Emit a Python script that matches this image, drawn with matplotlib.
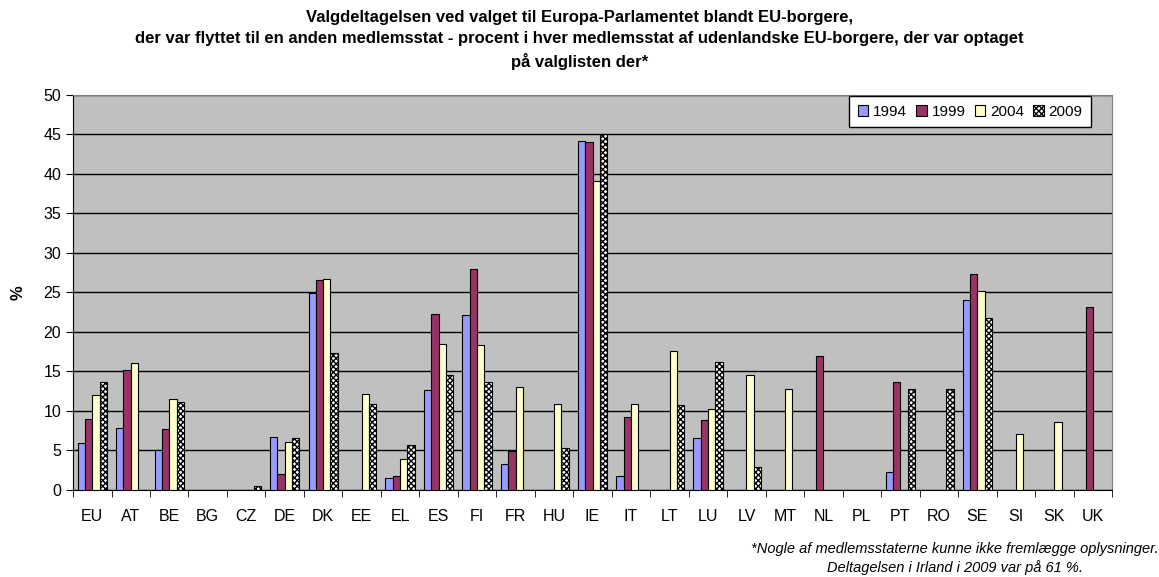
import matplotlib.pyplot as plt
import numpy as np

plt.rcParams['font.family'] = ['Liberation Sans', 'DejaVu Sans']

# data
lande = ["EU", "AT", "BE", "BG", "CZ", "DE", "DK", "EE", "EL", "ES", "FI", "FR", "HU",
         "IE", "IT", "LT", "LU", "LV", "MT", "NL", "PL", "PT", "RO", "SE", "SI", "SK", "UK"]
aar = ["1994", "1999", "2004", "2009"]
nan = np.nan
v1994 = [5.9, 7.8, 5.0, nan, nan, 6.7, 24.9, nan, 1.5, 12.6, 22.1, 3.3, nan,
         44.2, 1.7, nan, 6.6, nan, nan, nan, nan, 2.2, nan, 24.1, nan, nan, nan]
v1999 = [9.0, 15.2, 7.7, nan, nan, 2.0, 26.6, nan, 1.7, 22.3, 28.0, 4.9, nan,
         44.1, 9.2, nan, 8.8, nan, nan, 16.9, nan, 13.6, nan, 27.3, nan, nan, 23.1]
v2004 = [12.0, 16.0, 11.5, nan, nan, 6.0, 26.7, 12.2, 3.9, 18.5, 18.3, 13.0, 10.9,
         39.1, 10.9, 17.6, 10.3, 14.5, 12.8, nan, nan, nan, nan, 25.2, 7.1, 8.6, nan]
v2009 = [13.6, nan, 11.1, nan, 0.5, 6.6, 17.3, 10.9, 5.7, 14.5, 13.6, nan, 5.3,
         45.0, nan, 10.8, 16.2, 2.9, nan, nan, nan, 12.8, 12.8, 21.8, nan, nan, nan]
serier = [v1994, v1999, v2004, v2009]

farver = ["#9999FF", "#993366", "#FFFFCC", "white"]
moenstre = [None, None, None, "xxxxxx"]

fig = plt.figure(figsize=(11.59, 5.77), dpi=100)
ax = fig.add_axes([0.063, 0.151, 0.8965, 0.6845])
ax.set_facecolor("#C0C0C0")

x = np.arange(len(lande))
bredde = 0.19
for i, (vals, navn) in enumerate(zip(serier, aar)):
    pos = x + (i - 1.5) * bredde
    ax.bar(pos, vals, width=bredde, color=farver[i], edgecolor="black",
           linewidth=0.8, hatch=moenstre[i], label=navn, zorder=3)

ax.set_xlim(-0.5, len(lande) - 0.5)
ax.set_ylim(0, 50)
ax.set_yticks(range(0, 51, 5))
ax.set_xticks(x)
ax.set_xticklabels(lande, fontsize=11.5)
ax.tick_params(axis="x", length=0, pad=14)
ax.set_xticks(np.arange(-0.5, len(lande)), minor=True)
ax.tick_params(axis="x", which="minor", length=5, direction="out")
ax.tick_params(axis="y", labelsize=11.5, length=5, direction="out")
ax.grid(axis="y", color="black", linewidth=1, zorder=0)
ax.set_axisbelow(True)

for side in ["top", "right"]:
    ax.spines[side].set_color("#808080")
ax.spines["left"].set_color("black")
ax.spines["bottom"].set_color("black")

ax.set_ylabel("%", fontsize=12, fontweight="bold", labelpad=13)

ax.legend(loc="upper right", ncol=4, fontsize=11, frameon=True, fancybox=False,
          edgecolor="black", framealpha=1, handlelength=0.7, handleheight=0.7,
          handletextpad=0.3, columnspacing=0.6, borderpad=0.55, borderaxespad=0.1,
          bbox_to_anchor=(0.981, 1.0))

fig.text(0.5, 0.982, "Valgdeltagelsen ved valget til Europa-Parlamentet blandt EU-borgere,\n"
         "der var flyttet til en anden medlemsstat - procent i hver medlemsstat af udenlandske EU-borgere, der var optaget\n"
         "på valglisten der*", ha="center", va="top", fontsize=12, fontweight="bold",
         linespacing=1.5)

fig.text(0.824, 0.06, "*Nogle af medlemsstaterne kunne ikke fremlægge oplysninger.\n"
         "Deltagelsen i Irland i 2009 var på 61 %.", ha="center", va="top",
         fontsize=10.5, style="italic", linespacing=1.3)

fig.savefig("out.png", dpi=100)
